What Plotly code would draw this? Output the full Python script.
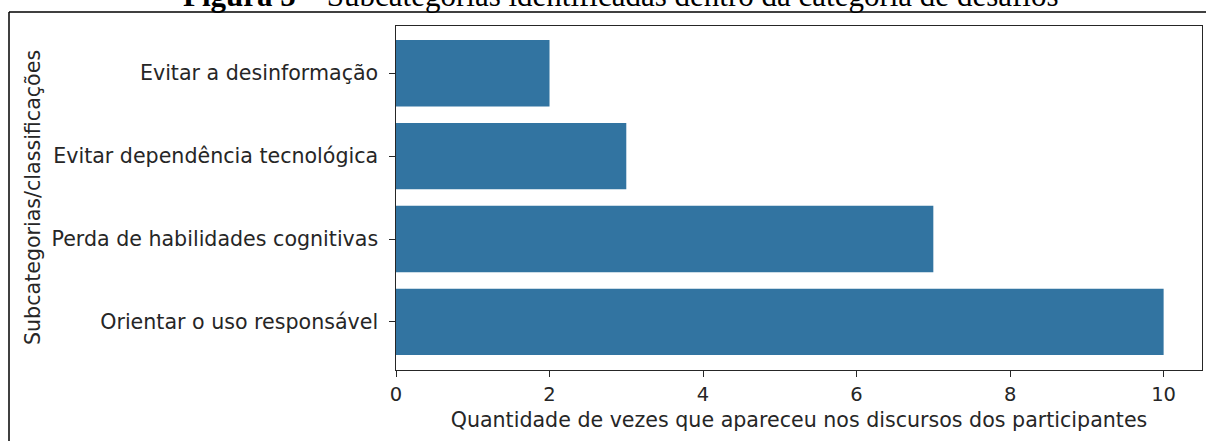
import plotly.graph_objects as go

categories = ["Evitar a desinformação", "Evitar dependência tecnológica",
              "Perda de habilidades cognitivas", "Orientar o uso responsável"]
values = [2, 3, 7, 10]
x_ticks = [0, 2, 4, 6, 8, 10]

W, H = 1206, 441
L, R, T, B = 396, 1202, 26, 370
TXT = "#262626"
FS = 20.6

fig = go.Figure(go.Bar(
    x=values, y=categories, orientation="h",
    marker=dict(color="#3274a1", line=dict(width=0)),
    width=0.8,
))

def px(x):
    return (x - L) / (R - L)

def py(y):
    return (B - y) / (B - T)

fig.update_layout(
    width=W, height=H,
    margin=dict(l=L, r=W - R, t=T, b=H - B),
    paper_bgcolor="white", plot_bgcolor="white",
    showlegend=False,
    font=dict(family="DejaVu Sans", size=FS, color=TXT),
    xaxis=dict(range=[0, 10.5], tickvals=x_ticks, ticks="outside", ticklen=6,
               tickcolor=TXT, showgrid=False, zeroline=False,
               tickfont=dict(size=19.5, color=TXT),
               showline=True, linecolor=TXT, linewidth=1.3, mirror=True,
               title=dict(text="Quantidade de vezes que apareceu nos discursos dos participantes",
                          standoff=8, font=dict(size=FS, color=TXT))),
    yaxis=dict(categoryorder="array", categoryarray=categories[::-1],
               range=[-0.58, 3.57], ticks="outside", ticklen=6,
               tickcolor=TXT, showgrid=False, zeroline=False,
               tickfont=dict(size=FS, color=TXT),
               showline=True, linecolor=TXT, linewidth=1.3, mirror=True,
               ticksuffix=" "),
    shapes=[
        dict(type="line", xref="paper", yref="paper",
             x0=px(9), x1=px(1206), y0=py(12), y1=py(12),
             line=dict(color="black", width=1.5)),
        dict(type="line", xref="paper", yref="paper",
             x0=px(9), x1=px(9), y0=py(12), y1=py(441),
             line=dict(color="black", width=1.5)),
    ],
    annotations=[
        dict(text="Subcategorias/classificações", xref="paper", yref="paper",
             x=px(33), y=py(198), textangle=-90, showarrow=False,
             xanchor="center", yanchor="middle",
             font=dict(family="DejaVu Sans", size=FS, color=TXT)),
        dict(text="<b>Figura 5</b> – Subcategorias identificadas dentro da categoria de desafios",
             xref="paper", yref="paper", x=px(620), y=py(-5),
             xanchor="center", yanchor="middle", showarrow=False,
             font=dict(family="Liberation Serif", size=31, color="black")),
    ],
)

fig.write_html("out.html", config={"displayModeBar": False},
               post_script="document.body.style.margin='0';document.body.style.overflow='hidden';")
